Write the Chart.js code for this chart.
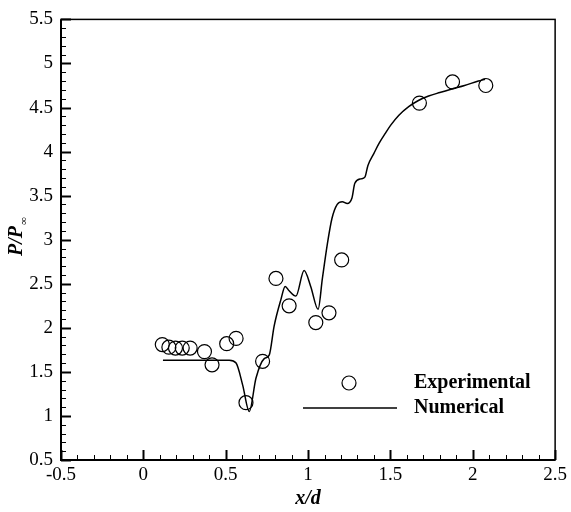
<!DOCTYPE html>
<html>
<head>
<meta charset="utf-8">
<script src="https://cdn.jsdelivr.net/npm/chart.js@4.4.1/dist/chart.umd.min.js"></script>
<style>
  html, body { margin: 0; padding: 0; background: #fff; }
  #wrap { width: 571px; height: 512px; }
</style>
</head>
<body>
<div id="wrap"><canvas id="pressure-chart" width="571" height="512"></canvas></div>
<script>
// measured points (x/d, P/Pinf)
const expX = [0.115, 0.155, 0.195, 0.236, 0.284, 0.371, 0.417, 0.506, 0.563, 0.623, 0.724, 0.805, 0.885, 1.047, 1.127, 1.204, 1.676, 1.877, 2.079];
const expY = [1.81, 1.78, 1.77, 1.77, 1.77, 1.73, 1.58, 1.82, 1.88, 1.15, 1.62, 2.56, 2.25, 2.06, 2.17, 2.77, 4.55, 4.79, 4.75];

// computed curve
const numX = [0.119, 0.522, 0.563, 0.603, 0.643, 0.684, 0.734, 0.764, 0.794, 0.835, 0.861, 0.885, 0.926, 0.976, 1.016, 1.061, 1.087, 1.117, 1.145, 1.177, 1.208, 1.238, 1.266, 1.284, 1.321, 1.345, 1.363, 1.40, 1.43, 1.47, 1.502, 1.55, 1.611, 1.67, 1.732, 1.80, 1.873, 1.95, 2.034, 2.075];
const numY = [1.633, 1.633, 1.60, 1.35, 1.05, 1.43, 1.65, 1.69, 2.02, 2.32, 2.47, 2.42, 2.36, 2.65, 2.47, 2.21, 2.56, 2.95, 3.24, 3.40, 3.43, 3.41, 3.47, 3.64, 3.69, 3.71, 3.84, 3.98, 4.09, 4.21, 4.30, 4.41, 4.51, 4.58, 4.63, 4.67, 4.71, 4.75, 4.80, 4.82];

const xTicks = [-0.5, 0, 0.5, 1, 1.5, 2, 2.5];
const yTicks = [0.5, 1, 1.5, 2, 2.5, 3, 3.5, 4, 4.5, 5, 5.5];
const legendLabels = ['Experimental', 'Numerical'];

const serif = '"Liberation Serif", "Times New Roman", serif';

const frameAndTicks = {
    id: 'frameAndTicks',
    afterDraw(chart) {
        const ctx = chart.ctx;
        const area = chart.chartArea;
        const xs = chart.scales.x;
        const ys = chart.scales.y;
        ctx.save();
        ctx.strokeStyle = '#000';

        // minor + major ticks pointing inward
        for (let i = 0; i <= 30; i++) {
            const v = xTicks[0] + i * 0.1;
            const px = Math.round(xs.getPixelForValue(v)) + 0.5;
            const major = i % 5 === 0;
            ctx.lineWidth = major ? 2 : 1;
            ctx.beginPath();
            ctx.moveTo(px, area.bottom);
            ctx.lineTo(px, area.bottom - (major ? 10 : 5));
            ctx.stroke();
        }
        for (let i = 0; i <= 50; i++) {
            const v = yTicks[0] + i * 0.1;
            const py = Math.round(ys.getPixelForValue(v)) + 0.5;
            const major = i % 5 === 0;
            ctx.lineWidth = major ? 2 : 1;
            ctx.beginPath();
            ctx.moveTo(area.left, py);
            ctx.lineTo(area.left + (major ? 10 : 5), py);
            ctx.stroke();
        }

        // box
        ctx.lineWidth = 1.5;
        ctx.strokeRect(area.left, area.top, area.right - area.left, area.bottom - area.top);
        ctx.lineWidth = 2;
        ctx.beginPath();
        ctx.moveTo(area.left, area.top);
        ctx.lineTo(area.left, area.bottom);
        ctx.lineTo(area.right, area.bottom);
        ctx.stroke();

        // legend
        ctx.lineWidth = 1.2;
        ctx.beginPath();
        ctx.arc(349, 383, 7, 0, Math.PI * 2);
        ctx.stroke();
        ctx.lineWidth = 1.5;
        ctx.beginPath();
        ctx.moveTo(303, 408);
        ctx.lineTo(397, 408);
        ctx.stroke();
        ctx.fillStyle = '#000';
        ctx.font = 'bold 20px ' + serif;
        ctx.textAlign = 'left';
        ctx.textBaseline = 'middle';
        ctx.fillText(legendLabels[0], 414, 383);
        ctx.fillText(legendLabels[1], 414, 408);

        // axis titles
        ctx.font = 'italic bold 20px ' + serif;
        ctx.textAlign = 'center';
        ctx.textBaseline = 'alphabetic';
        ctx.fillText('x/d', (area.left + area.right) / 2, 504);

        ctx.translate(22, 256);
        ctx.rotate(-Math.PI / 2);
        ctx.textAlign = 'left';
        ctx.fillText('P/P', 0, 0);
        const w = ctx.measureText('P/P').width;
        ctx.font = '11px ' + serif;
        ctx.fillText('\u221E', w + 1, 5);
        ctx.restore();
    }
};

const ctx = document.getElementById('pressure-chart').getContext('2d');
const pressureChart = new Chart(ctx, {
    type: 'scatter',
    data: {
        datasets: [
            {
                label: legendLabels[0],
                data: expX.map((x, i) => ({ x: x, y: expY[i] })),
                pointStyle: 'circle',
                pointRadius: 7,
                pointBorderWidth: 1.2,
                borderColor: '#000',
                backgroundColor: 'rgba(0,0,0,0)',
                showLine: false,
            },
            {
                label: legendLabels[1],
                data: numX.map((x, i) => ({ x: x, y: numY[i] })),
                showLine: true,
                pointRadius: 0,
                borderColor: '#000',
                borderWidth: 1.5,
                cubicInterpolationMode: 'monotone',
                fill: false,
            },
        ],
    },
    options: {
        responsive: false,
        animation: false,
        layout: { padding: { top: 11, right: 14, left: 0, bottom: 0 } },
        plugins: {
            legend: { display: false },
            tooltip: { enabled: false },
        },
        scales: {
            x: {
                type: 'linear',
                min: -0.5,
                max: 2.5,
                afterBuildTicks: s => { s.ticks = xTicks.map(v => ({ value: v })); },
                afterFit: s => { s.height = 52; },
                grid: { display: false, drawTicks: false },
                border: { display: false },
                ticks: {
                    autoSkip: false,
                    maxRotation: 0,
                    padding: 4,
                    color: '#000',
                    font: { family: serif, size: 19 },
                    callback: v => String(v),
                },
            },
            y: {
                type: 'linear',
                min: 0.5,
                max: 5.5,
                afterBuildTicks: s => { s.ticks = yTicks.map(v => ({ value: v })); },
                afterFit: s => { s.width = 61; },
                grid: { display: false, drawTicks: false },
                border: { display: false },
                ticks: {
                    autoSkip: false,
                    padding: 8,
                    color: '#000',
                    font: { family: serif, size: 19 },
                    callback: v => String(v),
                },
            },
        },
    },
    plugins: [frameAndTicks],
});
</script>
</body>
</html>
